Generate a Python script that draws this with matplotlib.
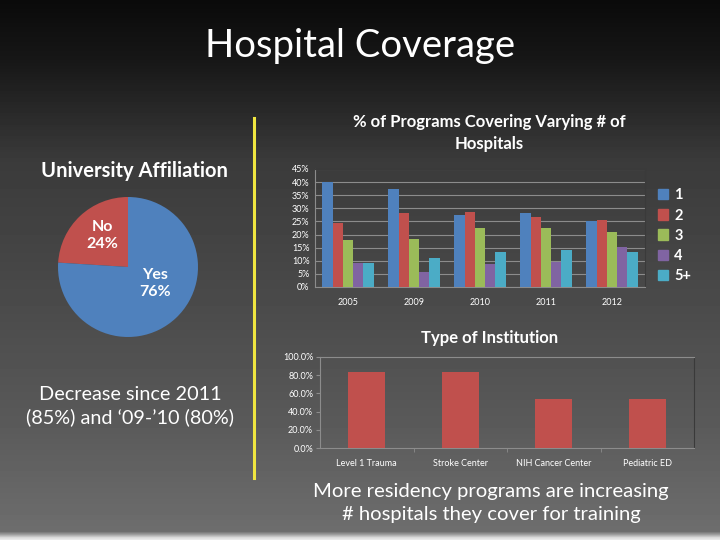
import matplotlib.pyplot as plt
import numpy as np
from matplotlib.patches import Patch

plt.rcParams['font.family'] = ['Lato', 'DejaVu Sans']

# data
years = ['2005', '2009', '2010', '2011', '2012']
series_names = ['1', '2', '3', '4', '5+']
hosp_1 = [40.0, 37.3, 27.4, 28.3, 25.2]
hosp_2 = [24.5, 28.3, 28.6, 26.7, 25.5]
hosp_3 = [17.9, 18.3, 22.5, 22.5, 21.0]
hosp_4 = [9.0, 5.8, 8.8, 9.4, 15.3]
hosp_5 = [9.0, 10.9, 13.5, 14.3, 13.4]

pie_labels = ['No', 'Yes']
pie_values = [24, 76]

inst_types = ['Level 1 Trauma', 'Stroke Center', 'NIH Cancer Center', 'Pediatric ED']
inst_values = [83.0, 83.0, 54.0, 54.0]

W, H = 720, 540
colors = ['#4f81bd', '#c0504d', '#9bbb59', '#8064a2', '#4bacc6']


def px(x, y, w=0, h=0):
    # pixel box (top-left origin) -> figure fraction [l, b, w, h]
    return [x / W, 1 - (y + h) / H, w / W, h / H]


fig = plt.figure(figsize=(7.2, 5.4), dpi=100)

# background gradient
bg = fig.add_axes([0, 0, 1, 1], zorder=-10)
yy = np.arange(H)
stops_y = [0, 60, 160, 300, 420, 531, 534, 537, 540]
stops_v = [0.04, 0.09, 0.23, 0.29, 0.35, 0.43, 0.62, 0.85, 0.95]
grad = np.interp(yy, stops_y, stops_v)[:, None]
bg.imshow(grad, cmap='gray', vmin=0, vmax=1, aspect='auto', extent=[0, W, H, 0])
bg.set_xlim(0, W)
bg.set_ylim(H, 0)
bg.axis('off')

# yellow divider
bg.plot([254, 254], [118, 478], color='#f0e640', lw=2.2)

fig.text(0.5, 1 - 46 / H, 'Hospital Coverage', ha='center', va='center',
         color='white', fontsize=27.5)

# pie
axp = fig.add_axes(px(58, 197, 140, 140))
axp.pie(pie_values, startangle=90, counterclock=True, colors=['#c0504d', '#4f81bd'],
        radius=1, wedgeprops=dict(linewidth=0))
axp.set_xlim(-1, 1)
axp.set_ylim(-1, 1)
axp.set_aspect('equal')
axp.text(-0.36, 0.45, '%s\n%d%%' % (pie_labels[0], pie_values[0]), ha='center',
         va='center', color='white', fontsize=11.5, fontweight='bold', linespacing=1.3)
axp.text(0.39, -0.24, '%s\n%d%%' % (pie_labels[1], pie_values[1]), ha='center',
         va='center', color='white', fontsize=11.5, fontweight='bold', linespacing=1.3)
fig.text(134 / W, 1 - 171 / H, 'University Affiliation', ha='center', va='center',
         color='white', fontsize=14.5, fontweight='bold')

# grouped bar chart
ax1 = fig.add_axes(px(315, 169, 330, 118))
ax1.patch.set_alpha(0)
series = [hosp_1, hosp_2, hosp_3, hosp_4, hosp_5]
x = np.arange(len(years))
bw = 0.155
for i, s in enumerate(series):
    ax1.bar(x + (i - 2) * bw, s, bw, color=colors[i], zorder=3)
ax1.set_ylim(0, 45)
ax1.set_xlim(-0.5, len(years) - 0.5)
ax1.set_yticks(range(0, 46, 5))
ax1.set_yticklabels(['%d%%' % v for v in range(0, 46, 5)])
ax1.set_xticks(x)
ax1.set_xticklabels(years)
ax1.yaxis.grid(True, color='#8c8c8c', lw=0.8, zorder=0)
ax1.tick_params(colors='white', labelsize=6.5, length=0, pad=4)
ax1.tick_params(axis='x', pad=8)
for sp in ['left', 'bottom']:
    ax1.spines[sp].set_color('#8c8c8c')
for sp in ['top', 'right']:
    ax1.spines[sp].set_color('#3a3a3a')
handles = [Patch(color=c) for c in colors]
leg = ax1.legend(handles, series_names, loc='center left', bbox_to_anchor=(1.0, 0.435),
                 frameon=False, labelspacing=0.42, handlelength=0.7, handleheight=0.7,
                 handletextpad=0.4, prop={'weight': 'bold', 'size': 10.5})
for t in leg.get_texts():
    t.set_color('white')
fig.text(489 / W, 1 - 133 / H, '% of Programs Covering Varying # of\nHospitals',
         ha='center', va='center', color='white', fontsize=12, fontweight='bold',
         linespacing=1.5)

# left note
fig.text(130 / W, 1 - 406 / H, "Decrease since 2011\n(85%) and \u201809-\u201910 (80%)",
         ha='center', va='center', color='white', fontsize=14.3, linespacing=1.4)

# institution bar chart
ax2 = fig.add_axes(px(320, 357, 374, 91))
ax2.patch.set_alpha(0)
xi = np.arange(len(inst_types))
ax2.bar(xi, inst_values, 0.4, color='#c0504d', zorder=3)
ax2.set_ylim(0, 100)
ax2.set_xlim(-0.5, len(inst_types) - 0.5)
ax2.set_yticks(range(0, 101, 20))
ax2.set_yticklabels(['%.1f%%' % v for v in range(0, 101, 20)])
ax2.set_xticks(xi)
ax2.set_xticklabels(inst_types)
ax2.set_xticks(xi[:-1] + 0.5, minor=True)
ax2.tick_params(colors='white', labelsize=6.5, length=0, pad=4)
ax2.tick_params(axis='x', pad=8)
ax2.tick_params(axis='x', which='minor', length=3, color='#8c8c8c')
ax2.tick_params(axis='y', length=3, color='#8c8c8c', pad=2)
for sp in ['left', 'bottom', 'top']:
    ax2.spines[sp].set_color('#8c8c8c')
ax2.spines['right'].set_color('#3a3a3a')
fig.text(490 / W, 1 - 338 / H, 'Type of Institution', ha='center', va='center',
         color='white', fontsize=12, fontweight='bold')

fig.text(491 / W, 1 - 503 / H, 'More residency programs are increasing\n# hospitals they cover for training',
         ha='center', va='center', color='white', fontsize=14.6, linespacing=1.4)

fig.savefig('out.png', dpi=100)
